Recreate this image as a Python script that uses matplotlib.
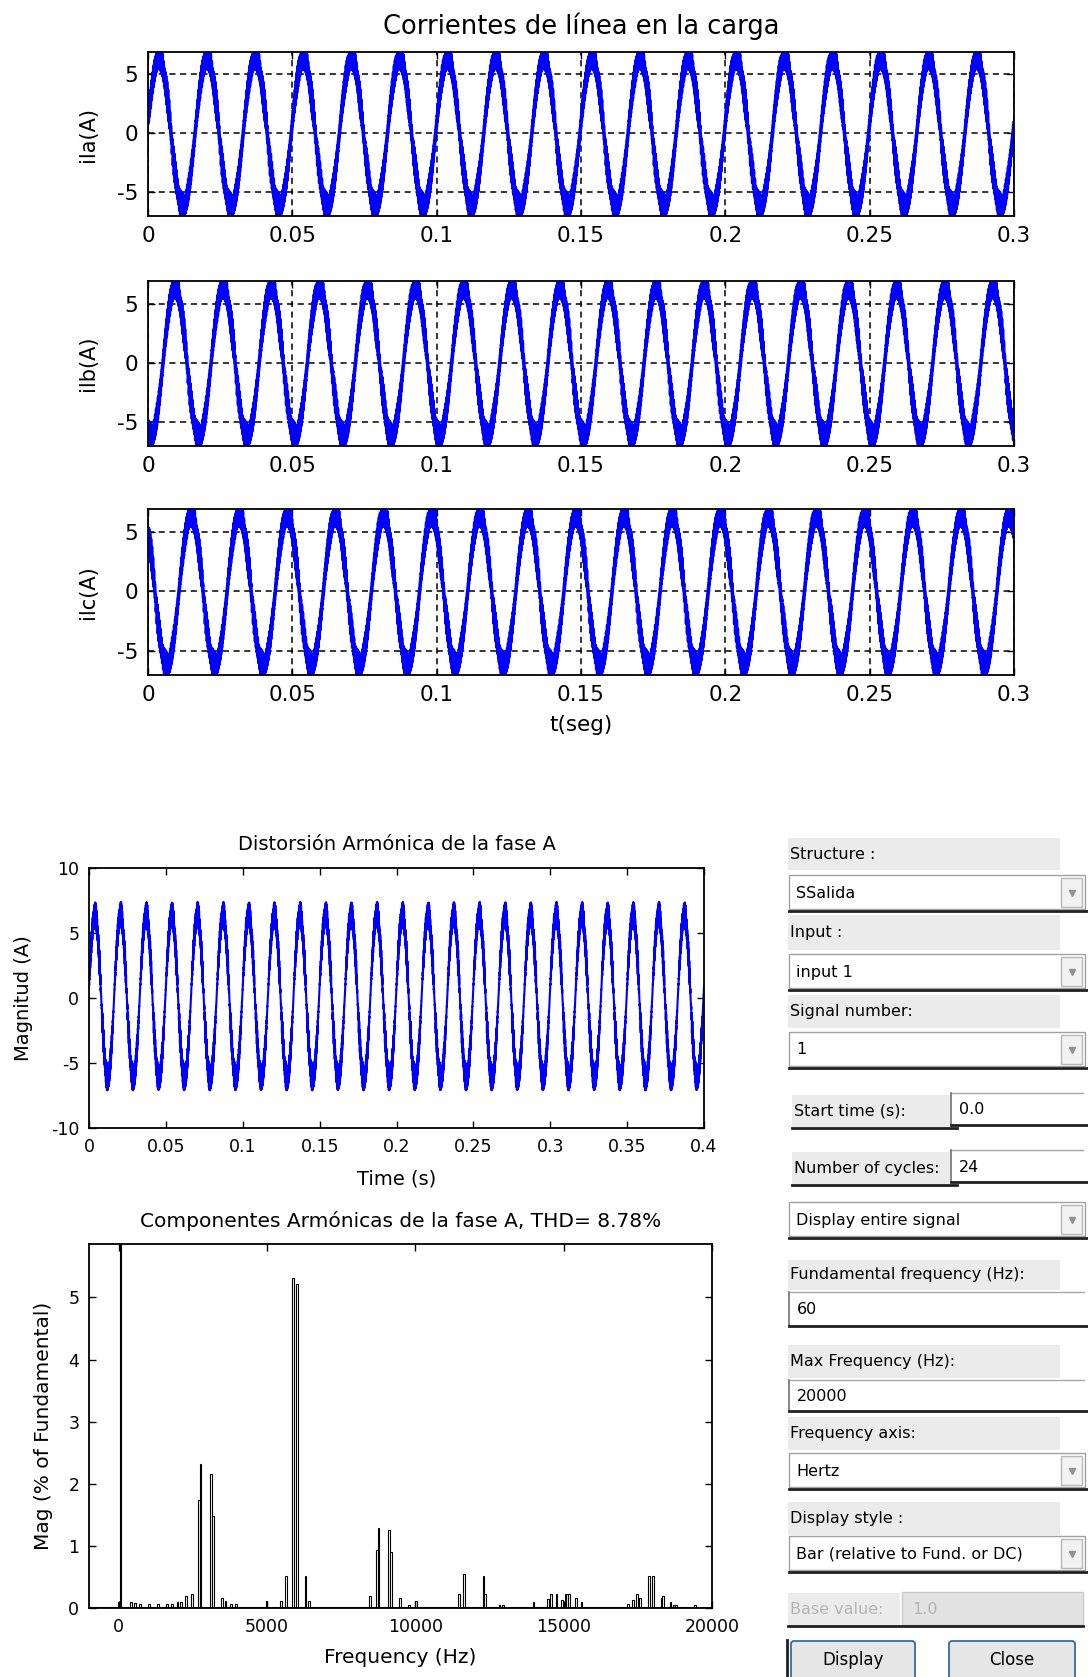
import numpy as np
import matplotlib.pyplot as plt
from matplotlib.patches import Rectangle, FancyBboxPatch

plt.rcParams['font.family'] = ['DejaVu Sans']
plt.rcParams['axes.unicode_minus'] = False

W, H = 1088, 1677

# ---- data ----
F0 = 60.0                      # Hz
I1 = 6.3                       # fundamental peak (A)
phase_a = 8.0                  # deg, phase A at t=0
phase_shift = [0.0, -120.0, 120.0]
line_names = ['ila(A)', 'ilb(A)', 'ilc(A)']

# harmonic spectrum (order, % of fundamental)
harm_order = [0, 7, 9, 12, 17, 22, 27, 30, 33, 35, 38, 41, 45, 46, 52, 53, 58, 60, 63, 66,
              83, 91, 94, 98, 100, 105, 107,
              141, 145, 146, 152, 153, 158, 163, 167,
              191, 194, 205, 206, 214, 216,
              233, 241, 243, 246, 249, 251, 252, 253, 257, 260,
              286, 289, 291, 293, 298, 300, 305, 306, 310, 312, 313, 324]
harm_mag = [0.10, 0.10, 0.08, 0.07, 0.07, 0.07, 0.06, 0.06, 0.10, 0.10, 0.19, 0.23, 1.74, 2.32, 2.16, 1.48, 0.16, 0.12, 0.06, 0.06,
            0.12, 0.12, 0.51, 5.31, 5.22, 0.51, 0.12,
            0.19, 0.94, 1.29, 1.25, 0.90, 0.16, 0.05, 0.12,
            0.22, 0.55, 0.52, 0.22, 0.05, 0.05,
            0.10, 0.15, 0.22, 0.22, 0.13, 0.22, 0.22, 0.22, 0.16, 0.10,
            0.07, 0.13, 0.22, 0.16, 0.52, 0.52, 0.16, 0.19, 0.10, 0.05, 0.05, 0.05]
thd = 8.78

# the main ripple lines used to rebuild the time waveform, with phases (deg)
ripple_order = [45, 46, 52, 53, 94, 98, 100, 105, 145, 146, 152, 153]
ripple_phase = [0, 180, 0, 180, 0, 0, 180, 0, 90, 270, 90, 270]

mag_of = dict(zip(harm_order, harm_mag))


def current(t, shift_deg):
    x = 2 * np.pi * F0 * t + np.deg2rad(phase_a + shift_deg)
    y = np.sin(x)
    for n, ph in zip(ripple_order, ripple_phase):
        y = y + mag_of[n] / 100.0 * np.sin(n * x + np.deg2rad(ph))
    return I1 * y


def place(l, t, r, b):
    return [l / W, 1 - b / H, (r - l) / W, (b - t) / H]


def matlab_axes(ax, fs):
    ax.tick_params(direction='in', top=True, right=True, length=5, width=1, labelsize=fs, pad=7)
    for s in ax.spines.values():
        s.set_linewidth(1.3)


fig = plt.figure(figsize=(W / 100, H / 100), dpi=100)

# ---- three line currents ----
t1 = np.linspace(0, 0.3, 30000)
tops = [(52, 216), (281, 446), (509, 675)]
for k, (top, bot) in enumerate(tops):
    ax = fig.add_axes(place(148, top, 1014, bot))
    ax.plot(t1, current(t1, phase_shift[k]), color='#0000ff', lw=2.6)
    ax.set_xlim(0, 0.3)
    ax.set_ylim(-7.0, 6.9)
    ax.set_xticks([0, 0.05, 0.1, 0.15, 0.2, 0.25, 0.3])
    ax.set_xticklabels(['0', '0.05', '0.1', '0.15', '0.2', '0.25', '0.3'])
    ax.set_yticks([-5, 0, 5])
    ax.grid(True, color='black', ls=(0, (4, 3)), lw=1.1)
    matlab_axes(ax, 15.5)
    ax.set_ylabel(line_names[k], fontsize=15)
    ax.yaxis.set_label_coords(-0.058, 0.5)
    if k == 0:
        ax.set_title('Corrientes de línea en la carga', fontsize=18.5, pad=13)
    if k == 2:
        ax.set_xlabel('t(seg)', fontsize=15.5)
        ax.xaxis.set_label_coords(0.5, -0.24)

# ---- phase A distortion ----
t2 = np.linspace(0, 0.4, 20000)
axd = fig.add_axes(place(89, 868, 704, 1128))
axd.plot(t2, current(t2, 0.0), color='#0000ff', lw=1.5)
axd.set_xlim(0, 0.4)
axd.set_ylim(-10, 10)
axd.set_xticks([0, 0.05, 0.1, 0.15, 0.2, 0.25, 0.3, 0.35, 0.4])
axd.set_xticklabels(['0', '0.05', '0.1', '0.15', '0.2', '0.25', '0.3', '0.35', '0.4'])
axd.set_yticks([-10, -5, 0, 5, 10])
matlab_axes(axd, 12.5)
axd.set_title('Distorsión Armónica de la fase A', fontsize=14, pad=13)
axd.set_xlabel('Time (s)', fontsize=14)
axd.xaxis.set_label_coords(0.5, -0.16)
axd.set_ylabel('Magnitud (A)', fontsize=14)
axd.yaxis.set_label_coords(-0.091, 0.5)

# ---- harmonic spectrum ----
axf = fig.add_axes(place(89, 1244, 712, 1608))
freqs = np.array(harm_order) * F0
axf.bar(freqs, harm_mag, width=60, facecolor='white', edgecolor='black', lw=0.8)
axf.bar([F0], [100.0], width=60, facecolor='white', edgecolor='black', lw=0.8)
axf.axhline(0, color='black', lw=2.2)
axf.set_xlim(-1000, 20000)
axf.set_ylim(0, 5.86)
axf.set_xticks([0, 5000, 10000, 15000, 20000])
axf.set_yticks([0, 1, 2, 3, 4, 5])
matlab_axes(axf, 12.5)
axf.set_title('Componentes Armónicas de la fase A, THD= %.2f%%' % thd, fontsize=14.5, pad=12)
axf.set_xlabel('Frequency (Hz)', fontsize=14.5)
axf.xaxis.set_label_coords(0.5, -0.11)
axf.set_ylabel('Mag (% of Fundamental)', fontsize=14.5)
axf.yaxis.set_label_coords(-0.058, 0.5)

# ---- FFT tool panel ----
gui = fig.add_axes([0, 0, 1, 1])
gui.set_xlim(0, W)
gui.set_ylim(H, 0)
gui.axis('off')
GRAY = '#ebebeb'
FS = 11.5


def label_box(x0, y0, x1, y1, text, color='black'):
    gui.add_patch(Rectangle((x0, y0), x1 - x0, y1 - y0, facecolor=GRAY, edgecolor='none'))
    gui.text(x0 + 2, (y0 + y1) / 2, text, ha='left', va='center', fontsize=FS, color=color)


def edit_box(x0, y0, x1, y1, text, fill='white', color='black'):
    gui.add_patch(Rectangle((x0, y0), x1 - x0, y1 - y0, facecolor=fill, edgecolor='none'))
    gui.plot([x0, x1], [y0, y0], color='#a8a8a8', lw=1)
    gui.plot([x0, x0], [y0, y1], color='#707070', lw=1.2)
    gui.plot([x0, x1 + 4], [y1, y1], color='#202020', lw=2)
    gui.text(x0 + 8, (y0 + y1) / 2 + 1, text, ha='left', va='center', fontsize=FS, color=color)


def dropdown(x0, y0, x1, y1, text):
    gui.add_patch(Rectangle((x0, y0), x1 - x0, y1 - y0, facecolor='white', edgecolor='#a0a0a0', lw=1))
    gui.plot([x0, W], [y1 + 2, y1 + 2], color='#202020', lw=2)
    gui.add_patch(Rectangle((x1 - 24, y0 + 3), 21, y1 - y0 - 5, facecolor='#f2f2f2', edgecolor='#b8b8b8', lw=1))
    gui.plot([x1 - 13.5], [(y0 + y1) / 2 + 1], marker='v', ms=4, color='#909090')
    gui.text(x0 + 7, (y0 + y1) / 2 + 1, text, ha='left', va='center', fontsize=FS)


label_box(788, 838, 1060, 870, 'Structure :')
dropdown(789, 875, 1085, 909, 'SSalida')
label_box(788, 915, 1060, 950, 'Input :')
dropdown(789, 954, 1085, 988, 'input 1')
label_box(788, 995, 1060, 1028, 'Signal number:')
dropdown(789, 1032, 1085, 1066, '1')

label_box(792, 1095, 950, 1127, 'Start time (s):')
gui.plot([792, 957], [1128, 1128], color='#202020', lw=2)
edit_box(951, 1093, 1083, 1125, '0.0')
label_box(792, 1152, 950, 1184, 'Number of cycles:')
gui.plot([792, 957], [1185, 1185], color='#202020', lw=2)
edit_box(951, 1150, 1083, 1182, '24')

dropdown(789, 1202, 1085, 1236, 'Display entire signal')

label_box(788, 1260, 1060, 1290, 'Fundamental frequency (Hz):')
edit_box(789, 1292, 1084, 1326, '60')
label_box(788, 1345, 1060, 1378, 'Max Frequency (Hz):')
edit_box(789, 1380, 1084, 1411, '20000')
label_box(788, 1417, 1060, 1450, 'Frequency axis:')
dropdown(789, 1453, 1085, 1487, 'Hertz')
label_box(788, 1502, 1060, 1535, 'Display style :')
dropdown(789, 1536, 1085, 1570, 'Bar (relative to Fund. or DC)')

label_box(788, 1593, 900, 1625, 'Base value:', color='#b4b4b4')
gui.add_patch(Rectangle((902, 1592), 181, 33, facecolor='#e2e2e2', edgecolor='#c8c8c8', lw=1))
gui.text(912, 1609, '1.0', ha='left', va='center', fontsize=FS, color='#b4b4b4')
gui.plot([788, 1083], [1626, 1626], color='#202020', lw=2)

gui.plot([787, 787], [1640, 1677], color='#202020', lw=2)
for x0, x1, txt in [(791, 915, 'Display'), (949, 1075, 'Close')]:
    gui.add_patch(FancyBboxPatch((x0, 1641), x1 - x0, 40, boxstyle='round,pad=0,rounding_size=3',
                                 facecolor='#e6e6e6', edgecolor='#2f6fa8', lw=1.3))
    gui.text((x0 + x1) / 2, 1660, txt, ha='center', va='center', fontsize=FS + 0.5)

fig.savefig('out.png', dpi=100)
